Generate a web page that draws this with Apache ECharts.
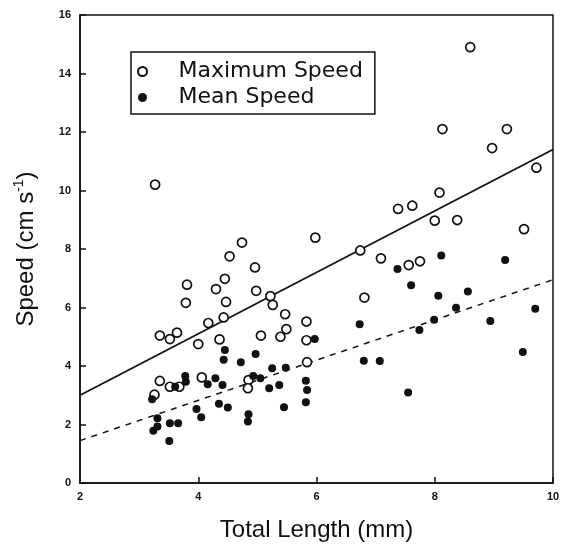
<!DOCTYPE html>
<html>
<head>
<meta charset="utf-8">
<script src="https://cdn.jsdelivr.net/npm/echarts@6/dist/echarts.min.js"></script>
<style>
  html, body { margin: 0; padding: 0; background: #fff; }
  #chart { width: 565px; height: 545px; }
</style>
</head>
<body>
<div id="chart"></div>
<script>
// values
const maxLength = [8.60, 8.13, 9.22, 8.97, 9.72, 3.27, 8.08, 7.38, 7.62, 8.00, 8.38, 9.51, 5.98, 4.74, 4.53, 4.96, 6.74, 7.09, 7.56, 7.75,
  4.45, 3.81, 4.30, 4.98, 3.79, 4.47, 5.22, 5.26, 5.47, 6.81, 5.83, 4.17, 4.43, 3.35, 3.52, 3.64, 4.00, 4.36, 5.06, 5.39,
  5.49, 5.83, 5.84, 3.35, 3.52, 3.68, 4.06, 3.26, 4.85, 4.84];
const maxSpeed = [14.9, 12.1, 12.1, 11.45, 10.78, 10.2, 9.93, 9.37, 9.48, 8.97, 8.99, 8.68, 8.39, 8.22, 7.75, 7.37, 7.95, 7.68, 7.45, 7.58,
  6.98, 6.78, 6.63, 6.57, 6.16, 6.19, 6.39, 6.09, 5.77, 6.34, 5.52, 5.47, 5.66, 5.04, 4.92, 5.14, 4.75, 4.91, 5.04, 5.00,
  5.26, 4.88, 4.13, 3.49, 3.29, 3.29, 3.61, 3.02, 3.52, 3.24];

const meanLength = [7.37, 8.11, 9.19, 7.60, 8.06, 8.56, 8.36, 7.99, 7.74, 8.94, 9.70, 9.49, 6.73, 6.80, 7.07, 5.97, 4.45, 4.43, 4.72, 4.97,
  5.25, 5.48, 3.22, 3.78, 3.79, 3.61, 4.16, 4.29, 4.41, 4.93, 5.05, 5.20, 5.37, 5.82, 5.84, 5.82, 5.45, 4.35, 4.50, 3.97,
  4.05, 4.85, 4.84, 3.31, 3.24, 3.31, 3.52, 3.66, 3.51, 7.55];
const meanSpeed = [7.32, 7.78, 7.62, 6.76, 6.40, 6.55, 5.99, 5.58, 5.23, 5.54, 5.96, 4.48, 5.43, 4.18, 4.17, 4.92, 4.55, 4.21, 4.13, 4.41,
  3.92, 3.94, 2.86, 3.66, 3.46, 3.29, 3.38, 3.58, 3.35, 3.66, 3.58, 3.24, 3.35, 3.50, 3.18, 2.76, 2.59, 2.71, 2.58, 2.53,
  2.25, 2.35, 2.10, 2.21, 1.79, 1.93, 2.04, 2.04, 1.44, 3.09];

// regression line end points
const fitX = [2, 10];
const maxFit = [3.0, 11.4];
const meanFit = [1.45, 6.95];

const xTicks = [2, 4, 6, 8, 10];
const yTicks = [0, 2, 4, 6, 8, 10, 12, 14, 16];

const ink = '#111';
const zip = (xs, ys) => xs.map((x, i) => [x, ys[i]]);

const chart = echarts.init(document.getElementById('chart'), null, { renderer: 'canvas' });

const tickLabel = {
  color: ink,
  fontFamily: 'Liberation Sans',
  fontWeight: 'bold',
  fontSize: 11
};

chart.setOption({
  backgroundColor: '#fff',
  animation: false,
  grid: {
    left: 80, right: 12, top: 15, bottom: 62,
    outerBoundsMode: 'none',
    show: true,
    borderColor: ink,
    borderWidth: 1.5
  },
  legend: {
    left: 131, top: 52,
    orient: 'vertical',
    padding: [8, 12, 5, 6],
    itemGap: 3,
    itemWidth: 10,
    itemHeight: 9,
    borderColor: ink,
    borderWidth: 1.5,
    data: ['Maximum Speed', 'Mean Speed'],
    textStyle: {
      color: ink,
      fontFamily: 'DejaVu Sans',
      fontSize: 22,
      lineHeight: 23,
      padding: [0, 0, 0, 26]
    }
  },
  xAxis: {
    type: 'value',
    min: xTicks[0], max: xTicks[xTicks.length - 1], interval: 2,
    name: 'Total Length (mm)',
    nameLocation: 'middle',
    nameGap: 35,
    nameTextStyle: { color: ink, fontFamily: 'Liberation Sans', fontSize: 24 },
    axisLine: { lineStyle: { color: ink, width: 1.5 } },
    axisTick: { inside: true, length: 6, lineStyle: { color: ink, width: 1.5 } },
    axisLabel: Object.assign({ margin: 8 }, tickLabel),
    splitLine: { show: false }
  },
  yAxis: {
    type: 'value',
    min: yTicks[0], max: yTicks[yTicks.length - 1], interval: 2,
    name: '{a|Speed (cm s}{s|-1}{a|)}',
    nameLocation: 'middle',
    nameGap: 40,
    nameTextStyle: {
      rich: {
        a: { color: ink, fontFamily: 'Liberation Sans', fontSize: 24, lineHeight: 28 },
        s: { color: ink, fontFamily: 'Liberation Sans', fontSize: 14, verticalAlign: 'top', lineHeight: 28, padding: [0, 0, 8, 0] }
      }
    },
    axisLine: { lineStyle: { color: ink, width: 1.5 } },
    axisTick: { inside: true, length: 6, lineStyle: { color: ink, width: 1.5 } },
    axisLabel: Object.assign({ margin: 9 }, tickLabel),
    splitLine: { show: false }
  },
  series: [
    {
      name: 'Maximum Speed',
      type: 'scatter',
      data: zip(maxLength, maxSpeed),
      symbol: 'circle',
      symbolSize: 9,
      itemStyle: { color: '#fff', borderColor: ink, borderWidth: 1.7, opacity: 1 },
      z: 3
    },
    {
      name: 'Mean Speed',
      type: 'scatter',
      data: zip(meanLength, meanSpeed),
      symbol: 'circle',
      symbolSize: 8,
      itemStyle: { color: ink, borderWidth: 0, opacity: 1 },
      z: 4
    },
    {
      name: 'max fit',
      type: 'line',
      data: zip(fitX, maxFit),
      symbol: 'none',
      lineStyle: { color: ink, width: 1.8 },
      silent: true,
      z: 2
    },
    {
      name: 'mean fit',
      type: 'line',
      data: zip(fitX, meanFit),
      symbol: 'none',
      lineStyle: { color: ink, width: 1.5, type: [6, 6] },
      silent: true,
      z: 2
    }
  ]
});
</script>
</body>
</html>
